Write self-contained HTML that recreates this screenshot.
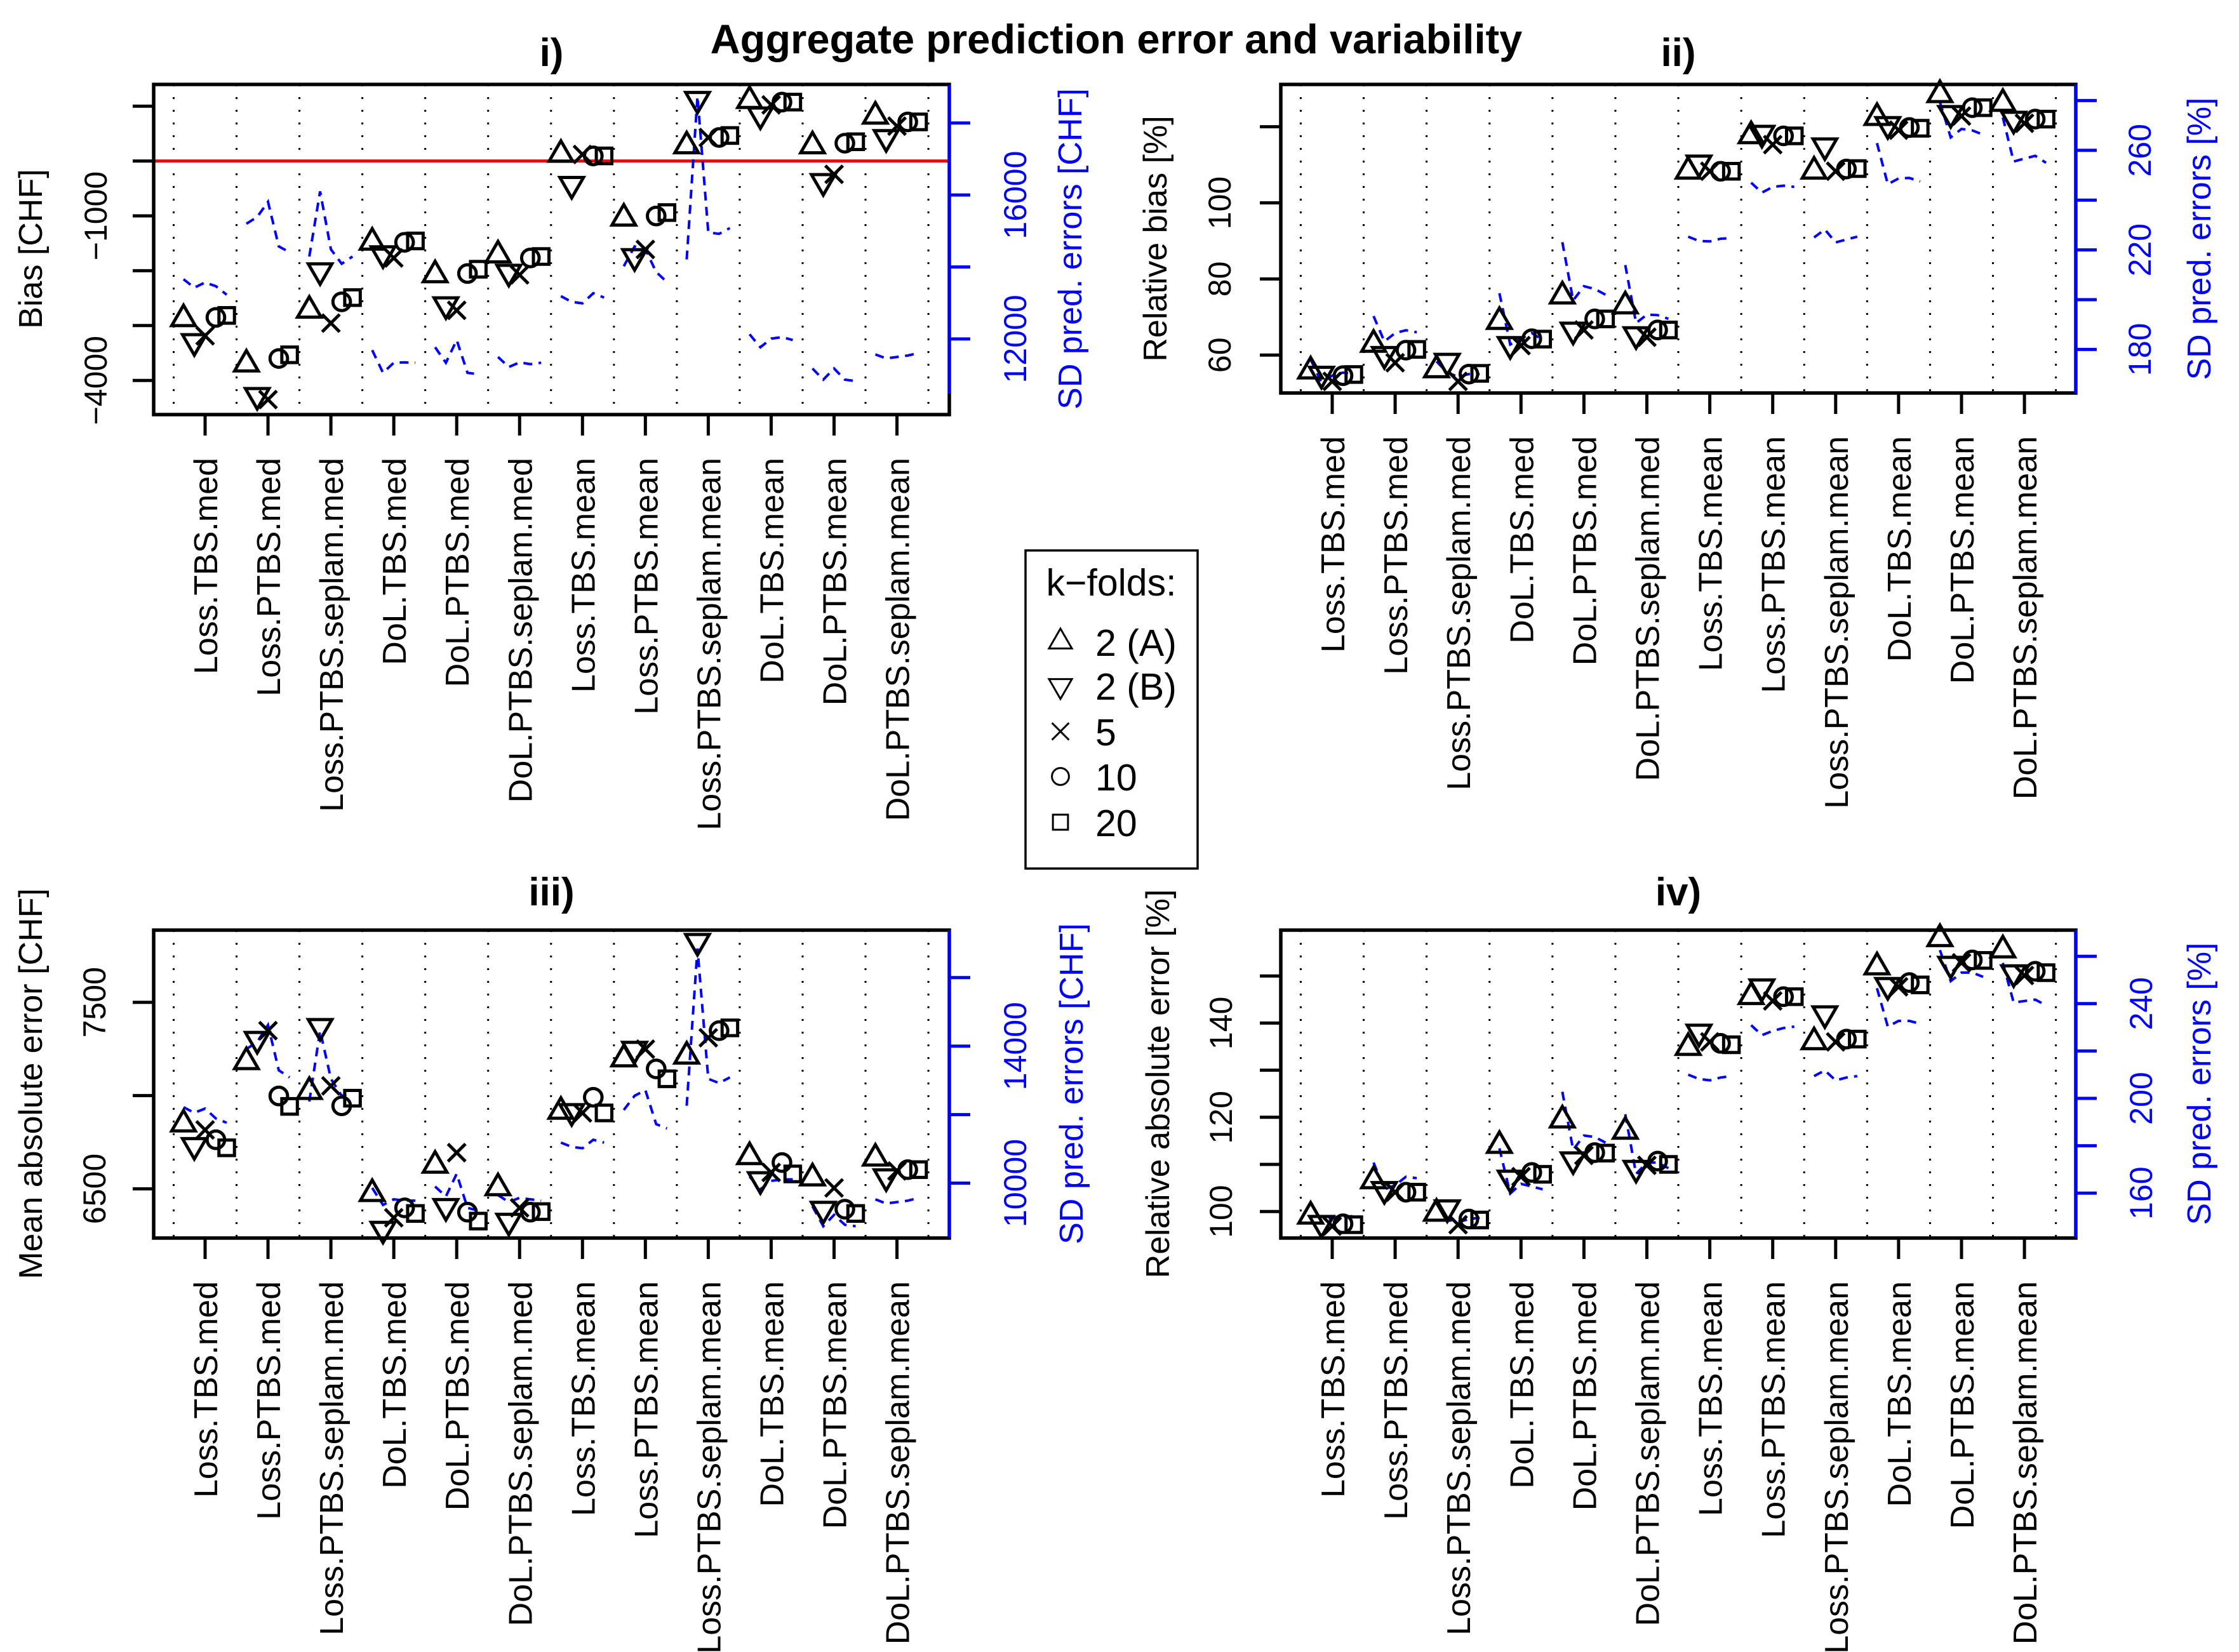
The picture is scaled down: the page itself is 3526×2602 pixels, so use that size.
<!DOCTYPE html>
<html><head><meta charset="utf-8"><style>
html,body{margin:0;padding:0;background:#fff}
svg{display:block}
text{font-family:"Liberation Sans",Arial,sans-serif}
</style></head>
<body>
<svg id="fig" xmlns="http://www.w3.org/2000/svg" width="3526" height="2602" viewBox="0 0 3526 2602">
<rect x="0" y="0" width="3526" height="2602" fill="#fff"/>
<text x="1758" y="84" text-anchor="middle" font-weight="bold" font-size="65">Aggregate prediction error and variability</text>
</svg>
<script>
const cats = ["Loss.TBS.med","Loss.PTBS.med","Loss.PTBS.seplam.med","DoL.TBS.med","DoL.PTBS.med","DoL.PTBS.seplam.med","Loss.TBS.mean","Loss.PTBS.mean","Loss.PTBS.seplam.mean","DoL.TBS.mean","DoL.PTBS.mean","DoL.PTBS.seplam.mean"];
const kfolds = ["2 (A)","2 (B)","5","10","20"];
const kshapes = ["tri","tridown","cross","circle","square"];

// Panel i: bias [CHF] and SD pred errors [CHF]
const biasVals = [[-2877,-3290,-3187,-2851,-2815],[-3703,-4272,-4349,-3600,-3533],[-2722,-1999,-2955,-2567,-2490],[-1482,-1689,-1767,-1482,-1457],[-2076,-2619,-2722,-2051,-1973],[-1715,-2025,-2076,-1767,-1741],[119,-424,119,93,93],[-1043,-1741,-1612,-1002,-940],[274,1126,429,429,465],[1100,842,1023,1074,1074],[274,-372,-243,325,351],[816,429,635,713,713]];
const biasSD = [[13660,13425,13570,13465,13230],[15200,15390,15810,14570,14410],[14290,16100,14490,14090,14290],[11690,11060,11340,11350,11340],[11770,11340,11970,11060,11020],[11500,11220,11350,11300,11340],[13190,13030,12990,13270,13150],[14020,14570,14490,13860,13580],[14210,18740,14960,14920,15080],[12130,11770,12010,12050,11970],[11180,10870,11180,10870,10830],[11570,11460,11500,11540,11610]];
const biasLeftTicks = [1000,0,-1000,-2000,-3000,-4000];
const biasLeftLabels = ["","","−1000","","","−4000"];
const biasRightTicks = [12000,14000,16000,18000];
const biasRightLabels = ["12000","","16000",""];

// Panel ii: relative bias [%]
const relBiasVals = [[55.8,55.0,53.1,54.6,54.9],[62.8,60.2,58.0,61.3,61.5],[56.1,58.4,53.1,55.0,55.2],[68.8,62.8,62.5,64.3,64.2],[75.5,66.6,66.6,69.5,69.5],[72.9,65.4,64.7,66.6,66.6],[108.3,110.5,108.3,108.3,108.3],[117.6,118.3,115.3,117.6,117.6],[108.3,115.0,108.3,108.9,109.0],[122.4,120.6,119.1,119.8,119.6],[128.4,123.5,122.8,125.0,125.0],[126.1,122.0,120.9,122.0,122.0]];
const relBiasSD = [[176.0,166.7,169.5,170.7,170.1],[193.4,183.2,186.6,187.7,186.9],[175.2,170.7,169.0,170.1,170.1],[202.6,182.0,184.3,186.6,183.8],[223.1,199.7,205.4,204.3,202.0],[213.9,190.6,194.0,193.8,192.3],[225.3,223.6,223.4,224.5,224.7],[247.0,243.0,245.3,245.8,245.3],[225.0,228.2,223.0,224.2,225.3],[262.9,246.4,248.7,248.9,247.5],[279.4,265.2,268.6,268.0,266.3],[273.2,255.5,256.7,257.8,255.0]];
const relBiasLeftTicks = [60,80,100,120];
const relBiasLeftLabels = ["60","80","100",""];
const relBiasRightTicks = [180,200,220,240,260,280];
const relBiasRightLabels = ["180","","220","","260",""];

// Panel iii: mean absolute error [CHF]
const maeVals = [[6847,6733,6816,6763,6720],[7181,7302,7348,6998,6942],[7021,7371,7052,6945,6986],[6474,6284,6345,6398,6368],[6626,6406,6694,6375,6327],[6505,6327,6398,6375,6378],[6915,6915,6907,6991,6907],[7196,7249,7249,7143,7090],[7211,7827,7310,7348,7363],[6672,6550,6588,6641,6580],[6558,6391,6505,6391,6368],[6664,6565,6596,6603,6603]];
const maeSD = [[12218,12052,12176,11887,11762],[13914,14121,14617,13293,13087],[12383,14452,13045,12549,12631],[9859,9363,9528,9487,9487],[9901,9611,10273,9280,9197],[9652,9446,9570,9528,9487],[11183,11059,11018,11266,11183],[12135,12549,12714,11721,11597],[12259,16851,13045,12921,13087],[10190,9818,10066,10108,10108],[9321,8742,9073,8784,8742],[9528,9404,9446,9487,9570]];
const maeLeftTicks = [6500,7000,7500];
const maeLeftLabels = ["6500","","7500"];
const maeRightTicks = [10000,12000,14000,16000];
const maeRightLabels = ["10000","","14000",""];

// Panel iv: relative absolute error [%]
const raeVals = [[99.0,97.5,96.9,97.4,97.2],[106.5,104.7,104.1,104.1,104.1],[99.6,100.8,97.2,98.4,98.2],[114.0,107.1,107.4,108.3,107.9],[119.4,111.0,111.9,112.5,112.4],[117.0,109.2,109.8,110.7,110.0],[134.8,138.1,136.0,135.7,135.4],[145.6,147.7,144.7,145.6,145.6],[136.0,142.0,136.0,136.6,136.6],[151.9,148.0,147.7,148.6,148.1],[157.9,152.5,152.8,153.4,153.3],[155.5,150.7,150.1,151.0,150.7]];
const raeSD = [[156.2,147.8,149.6,150.2,150.2],[172.9,161.6,163.3,166.9,166.3],[155.6,149.0,147.8,149.0,149.6],[178.9,159.8,163.9,162.8,161.6],[202.8,178.3,184.3,183.7,181.3],[193.3,168.1,172.9,172.9,170.5],[210.0,208.2,207.6,208.8,209.4],[230.9,226.7,228.5,229.7,230.3],[209.4,211.8,207.6,208.8,209.4],[246.5,230.3,232.7,232.7,231.5],[262.6,249.5,253.1,253.1,251.3],[257.2,240.5,241.1,241.7,239.3]];
const raeLeftTicks = [100,110,120,130,140,150];
const raeLeftLabels = ["100","","120","","140",""];
const raeRightTicks = [160,180,200,220,240,260];
const raeRightLabels = ["160","","200","","240",""];

const NS = "http://www.w3.org/2000/svg";
const svg = document.getElementById('fig');
function mk(tag, attrs, parent){
  const e = document.createElementNS(NS, tag);
  for (const k in attrs) e.setAttribute(k, attrs[k]);
  (parent||svg).appendChild(e);
  return e;
}

const panels = [
  {id:"i", title:"i)", vals:biasVals, sd:biasSD, lt:biasLeftTicks, ll:biasLeftLabels, rt:biasRightTicks, rl:biasRightLabels,
   x0:242, x1:1495, y0:133, y1:653, ra0:134, ra1:620, tick0:323, step:99.05,
   ly:{v0:0, p0:253.6, s:0.0864}, ry:{v0:12000, p0:533.9, s:0.0567},
   ltx:168, ltitx:66, rtx:1616, rtitx:1703, titY:104, yt:"Bias [CHF]", yr:"SD pred. errors [CHF]", cy:392, red:0},
  {id:"ii", title:"ii)", vals:relBiasVals, sd:relBiasSD, lt:relBiasLeftTicks, ll:relBiasLeftLabels, rt:relBiasRightTicks, rl:relBiasRightLabels,
   x0:2017, x1:3269, y0:133, y1:619, ra0:133, ra1:620, tick0:2098, step:99.1,
   ly:{v0:60, p0:559.3, s:5.995}, ry:{v0:180, p0:550.4, s:3.92},
   ltx:1938, ltitx:1837, rtx:3387, rtitx:3481, titY:104, yt:"Relative bias [%]", yr:"SD pred. errors [%]", cy:376},
  {id:"iii", title:"iii)", vals:maeVals, sd:maeSD, lt:maeLeftTicks, ll:maeLeftLabels, rt:maeRightTicks, rl:maeRightLabels,
   x0:242, x1:1495, y0:1465, y1:1950, ra0:1465, ra1:1949, tick0:323, step:99.05,
   ly:{v0:7500, p0:1578.7, s:0.2938}, ry:{v0:10000, p0:1863.5, s:0.05395},
   ltx:166, ltitx:66, rtx:1616, rtitx:1705, titY:1426, yt:"Mean absolute error [CHF]", yr:"SD pred. errors [CHF]", cy:1707},
  {id:"iv", title:"iv)", vals:raeVals, sd:raeSD, lt:raeLeftTicks, ll:raeLeftLabels, rt:raeRightTicks, rl:raeRightLabels,
   x0:2017, x1:3269, y0:1465, y1:1950, ra0:1465, ra1:1949, tick0:2098, step:99.1,
   ly:{v0:100, p0:1908.2, s:7.42}, ry:{v0:160, p0:1879.2, s:3.73},
   ltx:1940, ltitx:1841, rtx:3389, rtitx:3481, titY:1426, yt:"Relative absolute error [%]", yr:"SD pred. errors [%]", cy:1707}
];

function marker(parent, type, cx, cy, R, sw){
  const st = {fill:"none", stroke:"#000", "stroke-width":sw};
  let e;
  if (type==="tri"){
    e = mk("polygon", Object.assign({points:`${cx},${cy-1.555*R} ${cx+1.3468*R},${cy+0.7776*R} ${cx-1.3468*R},${cy+0.7776*R}`}, st), parent);
  } else if (type==="tridown"){
    e = mk("polygon", Object.assign({points:`${cx},${cy+1.555*R} ${cx+1.3468*R},${cy-0.7776*R} ${cx-1.3468*R},${cy-0.7776*R}`}, st), parent);
  } else if (type==="cross"){
    e = mk("path", Object.assign({d:`M${cx-R},${cy-R}L${cx+R},${cy+R}M${cx-R},${cy+R}L${cx+R},${cy-R}`}, st), parent);
  } else if (type==="circle"){
    e = mk("circle", Object.assign({cx:cx, cy:cy, r:R}, st), parent);
  } else {
    const h = 0.886*R;
    e = mk("rect", Object.assign({x:cx-h, y:cy-h, width:2*h, height:2*h}, st), parent);
  }
  return e;
}

panels.forEach(p => {
  const g = mk("g", {});
  
  
  const yL = v => p.ly.p0 - (v - p.ly.v0) * p.ly.s;
  const yR = v => p.ry.p0 - (v - p.ry.v0) * p.ry.s;
  const xG = (gi, k) => p.tick0 + gi * p.step + (k - 2) * 17;

  for (let i = 0; i <= cats.length; i++){
    const x = p.tick0 + (i - 0.5) * p.step;
    const l = mk("line", {x1:x, x2:x, y1:p.y0, y2:p.y1, stroke:"#000", "stroke-width":3, "stroke-dasharray":"3 17"}, g);
    
    
  }
  if (p.red !== undefined){
    const r = mk("line", {x1:p.x0, x2:p.x1, y1:yL(p.red), y2:yL(p.red), stroke:"#ff0000", "stroke-width":5}, g);
    
    
  }
  p.sd.forEach((arr, gi) => {
    const pts = arr.map((v, k) => `${xG(gi,k)},${yR(v)}`).join(" ");
    const pl = mk("polyline", {points:pts, fill:"none", stroke:"#0000ff", "stroke-width":4, "stroke-dasharray":"14 10"}, g);
    
    
  });
  p.vals.forEach((arr, gi) => {
    arr.forEach((v, k) => {
      const m = marker(g, kshapes[k], xG(gi,k), yL(v), 13.8, 5);
      
      
    });
  });
  const box = mk("rect", {x:p.x0, y:p.y0, width:p.x1-p.x0, height:p.y1-p.y0, fill:"none", stroke:"#000", "stroke-width":5.5}, g);
  
  
  const ra = mk("line", {x1:p.x1, x2:p.x1, y1:p.ra0, y2:p.ra1, stroke:"#0000ff", "stroke-width":5}, g);
  
  
  p.lt.forEach((v, i) => {
    const y = yL(v);
    const t = mk("line", {x1:p.x0-33, x2:p.x0, y1:y, y2:y, stroke:"#000", "stroke-width":5}, g);
    
    
    if (p.ll[i]){
      const tx = mk("text", {transform:`translate(${p.ltx},${y}) rotate(-90)`, "text-anchor":"middle", "font-size":50}, g);
      tx.textContent = p.ll[i];
      
      
    }
  });
  p.rt.forEach((v, i) => {
    const y = yR(v);
    const t = mk("line", {x1:p.x1, x2:p.x1+33, y1:y, y2:y, stroke:"#0000ff", "stroke-width":5}, g);
    
    
    if (p.rl[i]){
      const tx = mk("text", {transform:`translate(${p.rtx},${y}) rotate(-90)`, "text-anchor":"middle", "font-size":50, fill:"#0000ff"}, g);
      tx.textContent = p.rl[i];
      
      
    }
  });
  cats.forEach((c, gi) => {
    const x = p.tick0 + gi * p.step;
    const t = mk("line", {x1:x, x2:x, y1:p.y1, y2:p.y1+33, stroke:"#000", "stroke-width":5}, g);
    
    
    const tx = mk("text", {transform:`translate(${x+19},${p.y1+68}) rotate(-90)`, "text-anchor":"end", "font-size":52}, g);
    tx.textContent = c;
    
    
  });
  const lt = mk("text", {transform:`translate(${p.ltitx},${p.cy}) rotate(-90)`, "text-anchor":"middle", "font-size":52}, g);
  lt.textContent = p.yt;
  
  
  const rt = mk("text", {transform:`translate(${p.rtitx},${p.cy}) rotate(-90)`, "text-anchor":"middle", "font-size":52, fill:"#0000ff"}, g);
  rt.textContent = p.yr;
  
  
  const pt = mk("text", {x:(p.x0+p.x1)/2, y:p.titY, "text-anchor":"middle", "font-size":62, "font-weight":"bold"}, g);
  pt.textContent = p.title;
  
  
});

const lg = mk("g", {});


const lbox = mk("rect", {x:1615, y:867, width:271, height:501, fill:"#fff", stroke:"#000", "stroke-width":3.5}, lg);


const ltitle = mk("text", {x:1750, y:938, "text-anchor":"middle", "font-size":59}, lg);
ltitle.textContent = "k−folds:";


const legBase = [1033, 1102, 1174, 1245, 1317];
kfolds.forEach((k, i) => {
  const m = marker(lg, kshapes[i], 1670, legBase[i] - 22, 13.4, 3);
  
  
  const t = mk("text", {x:1725, y:legBase[i], "font-size":59}, lg);
  t.textContent = k;
  
  
});
</script>
</body></html>
